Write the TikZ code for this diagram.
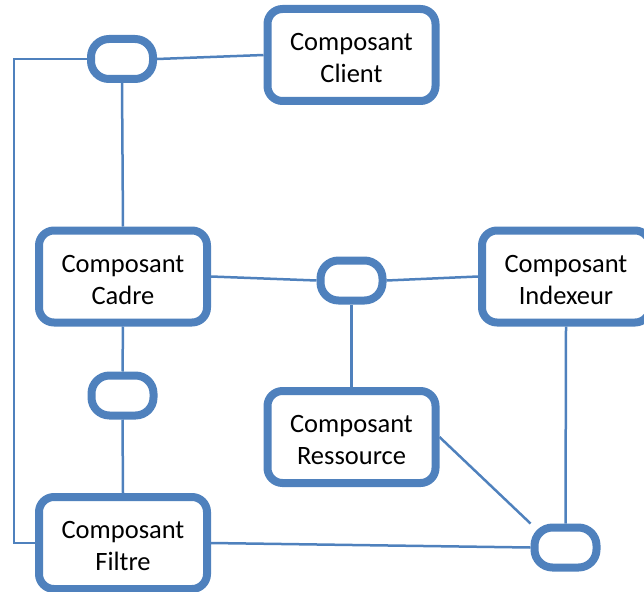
\documentclass[tikz,border=0pt]{standalone}
\usepackage{fontspec}
\setmainfont{Carlito}
\usetikzlibrary{backgrounds}
\definecolor{ofblue}{RGB}{79,129,189}
\tikzset{
  compbox/.style={draw=ofblue, line width=8pt, rounded corners=15pt, fill=white,
    minimum width=168pt, minimum height=92pt, inner sep=0pt},
  boxlabel/.style={inner sep=0pt, align=center, yshift=-3pt,
    font=\fontsize{26.5}{32}\selectfont},
  capsule/.style={draw=ofblue, line width=8pt, rounded corners=18pt, fill=white,
    minimum width=62pt, minimum height=40pt, inner sep=0pt},
  conn/.style={draw=ofblue, line width=2.5pt}
}
\begin{document}
\begin{tikzpicture}[x=1pt,y=-1pt]
\useasboundingbox (0,0) rectangle (644,591);
\node[compbox] (client) at (351.5,55) {};
\node[compbox] (cadre) at (123,276.5) {};
\node[compbox] (indexeur) at (566,276.5) {};
\node[compbox] (ressource) at (351.5,437) {};
\node[compbox] (filtre) at (123,543) {};
\node[boxlabel] (clientT) at (client.center) {Composant\\Client};
\node[boxlabel] (cadreT) at (cadre.center) {Composant\\Cadre};
\node[boxlabel] (indexeurT) at (indexeur.center) {Composant\\Indexeur};
\node[boxlabel] (ressourceT) at (ressource.center) {Composant\\Ressource};
\node[boxlabel] (filtreT) at (filtre.center) {Composant\\Filtre};
\node[capsule] (c1) at (122,59) {};
\node[capsule] (c2) at (351.5,280.5) {};
\node[capsule] (c3) at (122.5,395.5) {};
\node[capsule] (c4) at (565.5,547.5) {};
\coordinate (lx) at (14,0);
\begin{scope}[on background layer]
\draw[conn] (c1.east) -- (client.west);
\draw[conn] (c1.south) -- (cadre.north);
\draw[conn] (c1.west) -- (c1.west -| lx) |- (filtre.west);
\draw[conn] (cadre.east) -- (c2.west);
\draw[conn] (c2.east) -- (indexeur.west);
\draw[conn] (c2.south) -- (ressource.north);
\draw[conn] (cadre.south) -- (c3.north);
\draw[conn] (c3.south) -- (filtre.north);
\draw[conn] (indexeur.south) -- (c4.north);
\draw[conn] (ressource.east) -- (c4.north west);
\draw[conn] (filtre.east) -- (c4.west);
\end{scope}
\end{tikzpicture}
\end{document}
